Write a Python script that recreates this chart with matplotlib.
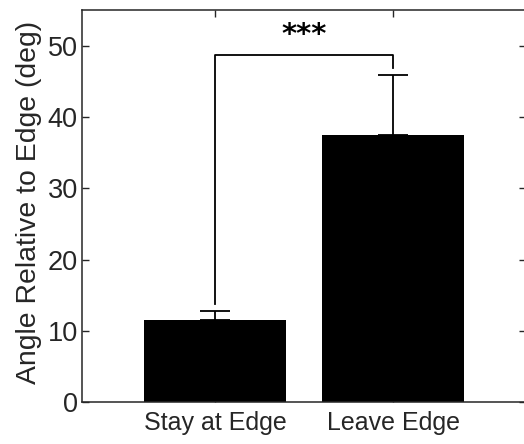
import matplotlib
matplotlib.use("Agg")
import matplotlib.pyplot as plt

plt.rcParams['font.family'] = ['Liberation Sans', 'DejaVu Sans']

# data
groups = ['Stay at Edge', 'Leave Edge']
means = [11.5, 37.5]
errs = [1.3, 8.4]
sig_label = '***'
bracket_y = 48.7
gap = 1.0

txt = '#262626'

fig = plt.figure(figsize=(5.24, 4.44), dpi=100)
ax = fig.add_axes([0.1565, 0.0935, 0.848, 0.884])

x = [1, 2]
ax.bar(x, means, width=0.8, color='black', zorder=2)
ax.errorbar(x, means, yerr=[[0, 0], errs], fmt='none', ecolor='black',
            elinewidth=1.3, capsize=10.5, capthick=1.3, zorder=3)

# significance bracket
tops = [m + e + gap for m, e in zip(means, errs)]
ax.plot([x[0], x[0], x[1], x[1]], [tops[0], bracket_y, bracket_y, tops[1]],
        color='black', lw=1.3, zorder=3)
ax.text((x[0] + x[1]) / 2, 51.5, sig_label, ha='center', va='center',
        fontsize=21, color='black', fontweight='bold', family='DejaVu Sans')

ax.set_xlim(0.25, 2.75)
ax.set_ylim(0, 55)
ax.set_xticks(x)
ax.set_xticklabels(groups)
ax.set_yticks([0, 10, 20, 30, 40, 50])
ax.set_ylabel('Angle Relative to Edge (deg)', fontsize=20.4, color=txt)
ax.yaxis.set_label_coords(-0.09, 0.51)

ax.tick_params(direction='in', length=5, width=1, colors=txt, labelsize=19.5,
               top=True, right=True, pad=3)
ax.tick_params(axis='x', labelsize=18, pad=6)
for s in ax.spines.values():
    s.set_linewidth(1.1)
    s.set_color(txt)

fig.savefig('out.png', dpi=100)
